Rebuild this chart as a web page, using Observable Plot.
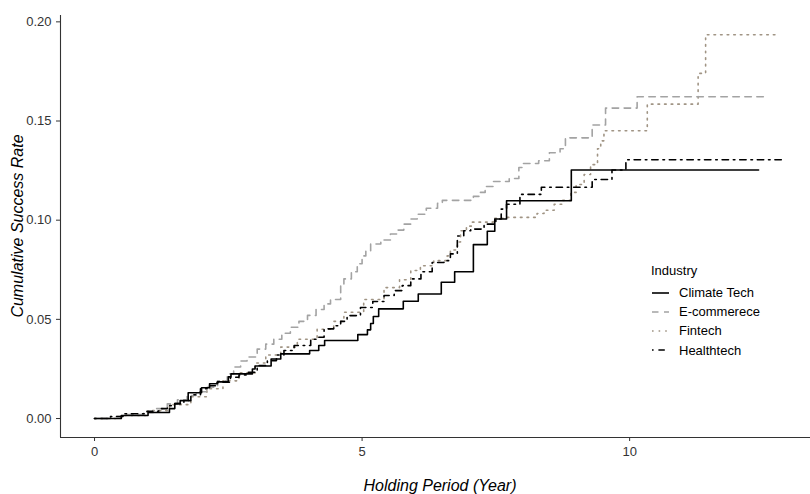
<!DOCTYPE html>
<html>
<head>
<meta charset="utf-8">
<script src="https://cdn.jsdelivr.net/npm/d3@7"></script>
<script src="https://cdn.jsdelivr.net/npm/@observablehq/plot@0.6"></script>
<style>
  body { margin: 0; background: #fff; }
  #wrap { position: relative; width: 810px; height: 494px; font-family: "Liberation Sans", Arial, sans-serif; }
  .ytitle { position: absolute; left: 18px; top: 226px; transform: translate(-50%, -50%) rotate(-90deg); font-style: italic; font-size: 16px; color: #000; white-space: nowrap; }
  .xtitle { position: absolute; left: 440px; top: 486px; transform: translate(-50%, -50%); font-style: italic; font-size: 16px; color: #000; white-space: nowrap; }
  .legend { position: absolute; left: 651px; top: 261px; font-size: 13px; color: #000; }
  .legend .ttl { height: 19px; line-height: 19px; margin-bottom: 3px; }
  .legend .row { display: flex; align-items: center; height: 19.2px; }
  .legend svg { margin-right: 10px; }
</style>
</head>
<body>
<div id="wrap"></div>
<script>
// ---- data ----
const seriesNames = ["Climate Tech", "E-commerece", "Fintech", "Healthtech"];

const climateT = [0, 0.5, 1.0, 1.4, 1.5, 1.6, 1.75, 2.0, 2.15, 2.3, 2.5, 2.55, 2.95, 3.0, 3.3, 3.48, 4.02, 4.19, 4.30, 4.92, 5.10, 5.16, 5.21, 5.31, 5.77, 6.05, 6.48, 6.73, 7.08, 7.34, 7.48, 7.70, 8.91, 12.41];
const climateV = [0, 0.0015, 0.003, 0.005, 0.0075, 0.009, 0.013, 0.0155, 0.0175, 0.0185, 0.021, 0.0225, 0.025, 0.0265, 0.030, 0.0326, 0.0343, 0.0368, 0.0393, 0.0423, 0.0447, 0.0479, 0.0514, 0.0553, 0.0591, 0.0628, 0.0687, 0.0740, 0.0877, 0.0944, 0.1006, 0.1098, 0.1253, 0.1253];

const ecomT = [0, 0.3, 0.6, 0.92, 1.1, 1.36, 1.55, 1.73, 1.9, 2.1, 2.3, 2.48, 2.6, 2.73, 2.85, 3.04, 3.2, 3.35, 3.5, 3.66, 3.82, 3.98, 4.14, 4.29, 4.41, 4.6, 4.66, 4.8, 4.91, 5.0, 5.07, 5.16, 5.35, 5.53, 5.66, 5.78, 5.91, 6.03, 6.2, 6.41, 6.5, 7.08, 7.2, 7.3, 7.45, 7.75, 7.93, 8.0, 8.3, 8.5, 8.7, 8.8, 9.3, 9.55, 10.14, 12.51];
const ecomV = [0, 0.001, 0.002, 0.003, 0.005, 0.0074, 0.0095, 0.0116, 0.0135, 0.0158, 0.019, 0.0225, 0.026, 0.029, 0.031, 0.035, 0.0375, 0.040, 0.043, 0.046, 0.049, 0.052, 0.055, 0.0578, 0.0600, 0.067, 0.0704, 0.074, 0.078, 0.082, 0.0846, 0.088, 0.090, 0.093, 0.095, 0.098, 0.1006, 0.103, 0.106, 0.1085, 0.110, 0.112, 0.114, 0.117, 0.1195, 0.121, 0.1266, 0.1286, 0.130, 0.134, 0.136, 0.1415, 0.148, 0.1565, 0.1622, 0.1622];

const fintechT = [0, 0.5, 1.0, 1.4, 1.8, 2.1, 2.4, 2.7, 3.0, 3.2, 3.48, 3.79, 4.16, 4.47, 4.66, 5.03, 5.41, 5.7, 5.91, 6.09, 6.34, 6.59, 6.65, 6.78, 6.84, 6.95, 7.05, 7.45, 7.7, 8.27, 8.4, 8.59, 8.75, 8.9, 9.0, 9.15, 9.27, 9.4, 9.46, 9.52, 10.33, 11.28, 11.42, 12.8];
const fintechV = [0, 0.0015, 0.004, 0.007, 0.011, 0.015, 0.019, 0.023, 0.028, 0.032, 0.036, 0.040, 0.045, 0.049, 0.0536, 0.060, 0.066, 0.070, 0.0746, 0.077, 0.0796, 0.082, 0.0850, 0.089, 0.0947, 0.097, 0.099, 0.101, 0.1014, 0.1034, 0.105, 0.108, 0.110, 0.114, 0.118, 0.123, 0.128, 0.136, 0.140, 0.1451, 0.1585, 0.174, 0.1935, 0.1935];

const healthT = [0, 0.3, 0.55, 0.98, 1.2, 1.36, 1.5, 1.67, 1.8, 1.98, 2.15, 2.29, 2.54, 2.7, 2.85, 3.04, 3.23, 3.4, 3.54, 3.73, 4.04, 4.16, 4.29, 4.47, 4.6, 4.72, 4.97, 5.2, 5.41, 5.6, 5.75, 5.91, 6.1, 6.31, 6.53, 6.65, 6.78, 6.9, 7.03, 7.28, 7.5, 7.6, 7.7, 7.95, 8.35, 9.3, 9.67, 9.93, 12.88];
const healthV = [0, 0.001, 0.0024, 0.0037, 0.005, 0.0065, 0.0075, 0.009, 0.012, 0.015, 0.0165, 0.0183, 0.0208, 0.022, 0.0233, 0.0267, 0.0292, 0.032, 0.0343, 0.0368, 0.040, 0.041, 0.0452, 0.0468, 0.049, 0.0519, 0.056, 0.059, 0.062, 0.0645, 0.067, 0.0704, 0.074, 0.0787, 0.0796, 0.083, 0.092, 0.0947, 0.0955, 0.098, 0.1006, 0.1056, 0.108, 0.113, 0.1166, 0.1205, 0.1253, 0.1305, 0.1305];

const xTicks = [0, 5, 10];
const yTicks = [0, 0.05, 0.10, 0.15, 0.20];

// ---- styles ----
const styles = {
  "Climate Tech": {stroke: "#000000", dash: null},
  "E-commerece":  {stroke: "#a3a3a3", dash: "6.5,5.5"},
  "Fintech":      {stroke: "#a09484", dash: "1.6,5"},
  "Healthtech":   {stroke: "#000000", dash: "1.6,4.8,6.4,4.8"}
};

const toRows = (name, T, V) => T.map((t, i) => ({series: name, t, v: V[i]}));
const rowsBySeries = {
  "Climate Tech": toRows("Climate Tech", climateT, climateV),
  "E-commerece": toRows("E-commerece", ecomT, ecomV),
  "Fintech": toRows("Fintech", fintechT, fintechV),
  "Healthtech": toRows("Healthtech", healthT, healthV)
};

const xDomain = [-0.636, 13.38];
const yDomain = [-0.00957, 0.2032];

const lineMarks = ["Fintech", "E-commerece", "Healthtech", "Climate Tech"].map(name =>
  Plot.line(rowsBySeries[name], {
    x: "t", y: "v", curve: "step-after",
    stroke: styles[name].stroke, strokeWidth: 1.6,
    strokeDasharray: styles[name].dash || undefined
  })
);

const chart = Plot.plot({
  width: 810,
  height: 494,
  marginLeft: 60,
  marginRight: 0,
  marginTop: 15,
  marginBottom: 57,
  style: {fontFamily: "'Liberation Sans', Arial, sans-serif", fontSize: "13px", color: "#333", background: "#fff"},
  x: {domain: xDomain, label: null},
  y: {domain: yDomain, label: null},
  marks: [
    Plot.axisX({ticks: xTicks, tickSize: 4, tickPadding: 5, label: null, stroke: "#333"}),
    Plot.axisY({ticks: yTicks, tickSize: 4, tickPadding: 5, tickFormat: d3.format(".2f"), label: null, stroke: "#333"}),
    Plot.ruleX([xDomain[0]], {stroke: "#333", strokeWidth: 1.1}),
    Plot.ruleY([yDomain[0]], {stroke: "#333", strokeWidth: 1.1}),
    ...lineMarks
  ]
});

const wrap = document.getElementById("wrap");
wrap.appendChild(chart);

const yt = document.createElement("div");
yt.className = "ytitle"; yt.textContent = "Cumulative Success Rate";
wrap.appendChild(yt);
const xt = document.createElement("div");
xt.className = "xtitle"; xt.textContent = "Holding Period (Year)";
wrap.appendChild(xt);

// legend
const leg = document.createElement("div");
leg.className = "legend";
const ttl = document.createElement("div");
ttl.className = "ttl"; ttl.textContent = "Industry";
leg.appendChild(ttl);
for (const name of seriesNames) {
  const row = document.createElement("div");
  row.className = "row";
  const s = d3.create("svg").attr("width", 18).attr("height", 10);
  s.append("line").attr("x1", 1).attr("x2", 18).attr("y1", 5).attr("y2", 5)
    .attr("stroke", styles[name].stroke).attr("stroke-width", 1.6)
    .attr("stroke-dasharray", styles[name].dash);
  row.appendChild(s.node());
  const lab = document.createElement("span");
  lab.textContent = name;
  row.appendChild(lab);
  leg.appendChild(row);
}
wrap.appendChild(leg);
</script>
</body>
</html>
